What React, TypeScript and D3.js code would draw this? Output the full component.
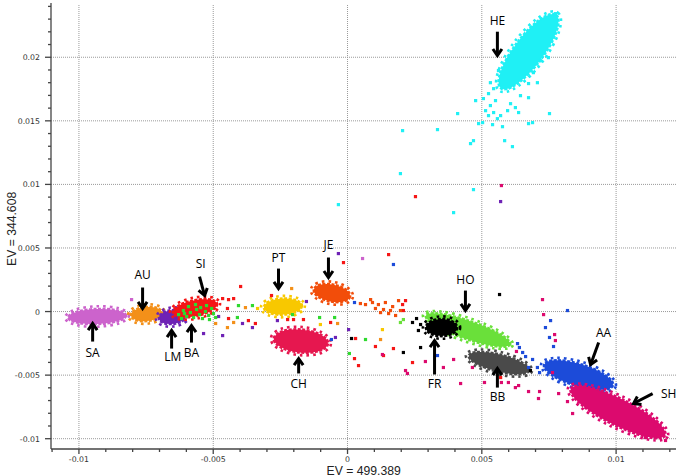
import { useEffect } from "react";
import * as d3 from "d3";

const W = 686;
const H = 476;

// axis ticks (major, labelled)
const xTicks = [-0.01, -0.005, 0, 0.005, 0.01];
const xTickLabels = ["-0.01", "-0.005", "0", "0.005", "0.01"];
const yTicks = [-0.01, -0.005, 0, 0.005, 0.01, 0.015, 0.02];
const yTickLabels = ["-0.01", "-0.005", "0", "0.005", "0.01", "0.015", "0.02"];

const xTitle = "EV = 499.389";
const yTitle = "EV = 344.608";

// populations, drawn in this order
const popIds = ["SA", "AU", "LM", "SI", "PT", "JE", "CH", "HO", "FR", "BB", "AA", "SH", "HE"];
// dense core of each population: main axis from (x1,y1) to (x2,y2), half-spread w (EV units)
const popX1 = [-0.01042, -0.00808, -0.00704, -0.00652, -0.00313, -0.00127, -0.00276, 0.0029, 0.0029, 0.0045, 0.0073, 0.0083, 0.0057];
const popY1 = [-0.00047, -0.00031, -0.00055, -0.0001, 0.00031, 0.00173, -0.00212, -0.00031, -0.00126, -0.00346, -0.00417, -0.00605, 0.01753];
const popX2 = [-0.00823, -0.00689, -0.00599, -0.00484, -0.00168, 0.00011, -0.00071, 0.00607, 0.0041, 0.00678, 0.0099, 0.01184, 0.00778];
const popY2 = [-0.00031, -0.00008, -0.00031, 0.00063, 0.00047, 0.00118, -0.00252, -0.00259, -0.00126, -0.00464, -0.00582, -0.00975, 0.02335];
const popW = [0.00063, 0.00059, 0.00058, 0.00066, 0.00067, 0.00071, 0.00094, 0.00075, 0.00071, 0.00071, 0.0009, 0.00108, 0.00118];

const popColor: Record<string, string> = {
  SA: "#cc63cc",
  AU: "#f39019",
  LM: "#6e22b5",
  SI: "#f51616",
  BA: "#2fd92f",
  PT: "#f8c800",
  JE: "#f24d0a",
  CH: "#e6174f",
  HO: "#6ae03a",
  FR: "#000000",
  BB: "#4a4a4a",
  AA: "#1c4bd9",
  SH: "#dc0a6e",
  HE: "#1ff0f5",
};

// individual samples away from the dense cores
const ptsBA: [number, number][] = [
  [-0.00629, -0.00024], [-0.00611, 0.00008], [-0.00599, -0.00039], [-0.00585, -0.00008], [-0.00573, -0.00047],
  [-0.00562, 0.00016], [-0.00551, -0.00024], [-0.0054, -0.00055], [-0.00529, 0], [-0.00517, -0.00031],
  [-0.00506, 0.00024], [-0.00499, -0.00016], [-0.00592, 0.00039], [-0.00618, -0.00055], [-0.00566, 0.00055],
  [-0.00547, 0.00031], [-0.00525, 0.00047], [-0.00491, -0.00047], [-0.00607, -0.00016], [-0.00514, -0.00063],
  [-0.00205, -0.00024], [-0.00104, -0.00047], [-0.00048, -0.00047], [0.00067, -0.0022], [0.00007, -0.0033],
  [-0.00406, 0.00047], [-0.00354, 0.00047], [-0.0041, -0.00047],
];
const ptsHO: [number, number][] = [[0.00197, -0.00086], [0.00208, -0.00063]];
const ptsSI: [number, number][] = [
  [-0.00015, 0.00385], [0.00153, 0.00448], [0.00253, 0.00904], [-0.00283, 0.00126], [-0.00201, -0.00063],
  [-0.00223, -0.00063], [-0.00164, -0.00063], [-0.00063, -0.00086], [0.0003, -0.00212], [0.00026, -0.0037],
  [0.00041, -0.00425], [0.00104, -0.00275], [0.00134, -0.00346], [0.00171, -0.00291], [0.00242, -0.00401],
  [-0.00398, 0.00197], [-0.00465, 0.00102], [-0.00443, 0.00094], [-0.00424, 0.00102], [-0.00447, 0.00024],
  [-0.00443, -0.00055], [-0.00369, -0.00071], [-0.00343, -0.00094], [0.00205, 0.00055], [0.00216, 0.00086],
  [0.00208, 0.00008], [0.0057, -0.00519],
];
const ptsJE: [number, number][] = [
  [0.00048, 0.00063], [0.00067, 0.00055], [0.00093, 0.00071], [0.00115, 0.00055], [0.00141, 0.00071],
  [0.00168, 0.00039], [0.00153, -0.00016], [0.00179, -0.00031], [0.00123, -0.00008], [0.00104, 0.00024],
  [0.00197, 0.00008], [0.0019, 0.00086], [0.00134, 0.00016], [0.0016, 0.00008], [0.00086, 0.00094],
];
const ptsLM: [number, number][] = [
  [-0.00034, 0.00456], [-0.00153, 0.00079], [-0.00261, -0.00071], [0.00004, -0.00142], [-0.00045, -0.00204],
  [-0.0048, -0.00039], [-0.00391, -0.00094], [-0.00354, -0.00126], [-0.00465, -0.00189], [-0.00536, -0.00173],
  [0.0057, 0.00865],
];
const ptsSA: [number, number][] = [[0.00056, 0.00417], [-0.00804, 0.00094]];
const ptsAU: [number, number][] = [
  [-0.0038, 0.00031], [-0.00491, -0.00094], [-0.00424, -0.00086], [-0.00447, -0.00126], [-0.00208, 0.00181],
  [-0.00037, -0.00094], [0.00123, -0.0022],
];
const ptsPT: [number, number][] = [[-0.00335, 0.00024], [-0.00101, -0.00102], [0.0013, -0.00142]];
const ptsFR: [number, number][] = [
  [0.00015, -0.00212], [0.00208, -0.00322], [0.00272, -0.00102], [0.00264, -0.00149], [0.00272, -0.00283],
  [0.00566, 0.00134], [0.00681, -0.00464], [0.00242, -0.00086], [0.00257, -0.00055],
];
const ptsAA: [number, number][] = [
  [0.00171, 0.0037], [-0.0006, -0.0022], [0.00026, 0.00071], [0.00819, 0.00008], [0.00756, -0.00071],
  [0.00737, -0.00126], [0.00752, -0.00204], [0.00767, -0.00275], [0.00633, -0.00252], [0.0064, -0.00283],
  [0.00652, -0.00322], [0.00663, -0.00354], [0.00689, -0.00377], [0.00674, -0.0044], [0.00707, -0.0044],
  [0.00715, -0.0048], [0.00335, -0.00346],
];
const ptsSH: [number, number][] = [
  [0.00726, 0.00094], [0.0073, -0.00024], [0.00771, -0.00181], [0.00774, -0.00228], [0.00629, -0.00314],
  [0.00763, -0.0048], [0.0029, -0.00393], [0.00357, -0.0044], [0.00395, -0.00377], [0.00216, -0.00464],
  [0.00465, -0.0044], [0.00599, -0.00558], [0.00625, -0.00598], [0.00421, -0.00566], [0.0051, -0.00558],
  [0.00573, -0.00558], [0.00674, -0.00629], [0.00715, -0.00629], [0.00711, -0.00684], [0.00637, -0.00582],
  [0.01184, -0.01014], [0.01158, -0.00983], [0.01176, -0.00951], [0.01147, -0.00896], [0.01136, -0.00857],
  [0.01083, -0.00959], [0.01109, -0.00991], [0.00786, -0.00645], [0.00819, -0.00708], [0.00838, -0.00802],
  [0.00573, 0.00991], [0.00223, -0.00487], [0.0013, -0.00338],
];
const ptsHE: [number, number][] = [
  [0.00477, 0.01659], [0.0041, 0.01557], [0.00503, 0.01486], [0.00488, 0.01478], [0.00458, 0.01321],
  [0.00469, 0.01344], [0.00585, 0.01344], [0.00614, 0.01297], [0.00469, 0.00959], [0.00395, 0.00778],
  [0.00752, 0.01557], [0.00689, 0.01486], [0.00674, 0.01478], [0.0054, 0.0147], [0.00577, 0.01454],
  [0.00205, 0.01423], [0.00335, 0.01431], [0.00197, 0.01085], [-0.00034, 0.00841],
  [0.00514, 0.0158], [0.00525, 0.01541], [0.00544, 0.01565], [0.00558, 0.01517], [0.0057, 0.01541],
  [0.00532, 0.0162], [0.00551, 0.01659], [0.00596, 0.0158], [0.00625, 0.01604], [0.00637, 0.01565],
  [0.00674, 0.01682], [0.00506, 0.01675], [0.00525, 0.01714], [0.00544, 0.01753], [0.00532, 0.018],
  [0.00562, 0.01895], [0.00774, 0.02343], [0.00748, 0.02311], [0.00719, 0.01973], [0.00748, 0.01997],
  [0.00707, 0.018], [0.00692, 0.01879], [0.00674, 0.01793], [0.00607, 0.01635], [0.00644, 0.01698],
];
const strayGroups: [string, [number, number][]][] = [
  ["SI", ptsSI], ["JE", ptsJE], ["LM", ptsLM], ["SA", ptsSA], ["AU", ptsAU], ["PT", ptsPT],
  ["FR", ptsFR], ["AA", ptsAA], ["SH", ptsSH], ["HE", ptsHE], ["HO", ptsHO], ["BA", ptsBA],
];

// arrow labels: arrow head, arrow tail, text baseline position (EV units)
const labelNames = ["HE", "AU", "SI", "SA", "LM", "BA", "PT", "JE", "CH", "FR", "HO", "BB", "AA", "SH"];
const headX = [0.00558, -0.00763, -0.00532, -0.00949, -0.00655, -0.00581, -0.00257, -0.00071, -0.00182, 0.00324, 0.00439, 0.00558, 0.00905, 0.01065];
const headY = [0.02013, 0.00024, 0.00126, -0.00094, -0.00149, -0.0011, 0.00181, 0.00267, -0.0037, -0.00228, 0.00008, -0.00448, -0.00417, -0.00723];
const tailX = [0.00558, -0.00763, -0.00551, -0.00949, -0.00655, -0.00581, -0.00257, -0.00071, -0.00182, 0.00324, 0.00439, 0.00558, 0.00935, 0.01136];
const tailY = [0.02201, 0.00189, 0.00275, -0.00236, -0.00291, -0.00244, 0.00338, 0.00425, -0.00487, -0.00495, 0.00165, -0.00598, -0.00244, -0.00645];
const textX = [0.00558, -0.00763, -0.00547, -0.00949, -0.00651, -0.00581, -0.00257, -0.00071, -0.00182, 0.00324, 0.00439, 0.00558, 0.00953, 0.01196];
const textY = [0.02256, 0.00259, 0.00346, -0.00354, -0.00385, -0.00354, 0.00393, 0.00495, -0.00598, -0.00605, 0.0022, -0.007, -0.00197, -0.00676];

const left = 51;
const right = 676;
const top = 5;
const bottom = 449;

const x = d3.scaleLinear().domain([-0.01104, 0.01223]).range([left, right]);
const y = d3.scaleLinear().domain([-0.01081, 0.02411]).range([bottom, top]);

const minorX = d3.range(-11, 13).map((i) => i / 1000);
const minorY = d3.range(-10, 25).map((i) => i / 1000);

const Arrow = ({ hx, hy, tx, ty }: { hx: number; hy: number; tx: number; ty: number }) => {
  const ang = Math.atan2(hy - ty, hx - tx);
  const len = 8;
  const spread = 0.6;
  const a1 = [hx - len * Math.cos(ang - spread), hy - len * Math.sin(ang - spread)];
  const a2 = [hx - len * Math.cos(ang + spread), hy - len * Math.sin(ang + spread)];
  return (
    <g stroke="#000" strokeWidth={3} fill="none" strokeLinecap="butt" strokeLinejoin="miter">
      <line x1={tx} y1={ty} x2={hx - Math.cos(ang) * 1.5} y2={hy - Math.sin(ang) * 1.5} />
      <polyline points={`${a1[0]},${a1[1]} ${hx},${hy} ${a2[0]},${a2[1]}`} />
    </g>
  );
};

const App = () => {
  useEffect(() => {
    document.body.style.margin = "0";
  }, []);

  const clusters = popIds.map((id, i) => {
    const px1 = x(popX1[i]);
    const py1 = y(popY1[i]);
    const px2 = x(popX2[i]);
    const py2 = y(popY2[i]);
    const cx = (px1 + px2) / 2;
    const cy = (py1 + py2) / 2;
    const rx = Math.hypot(px2 - px1, py2 - py1) / 2;
    const ry = y(0) - y(popW[i]);
    const ang = (Math.atan2(py2 - py1, px2 - px1) * 180) / Math.PI;
    return { id, cx, cy, rx, ry, ang, color: popColor[id] };
  });

  return (
    <svg width={W} height={H} style={{ position: "absolute", left: 0, top: 0, background: "#fff" }}>
      {/* grid */}
      <g stroke="#9a9a9a" strokeWidth={1} strokeDasharray="1 1">
        {xTicks.map((t) => (
          <line key={`gx${t}`} x1={x(t)} x2={x(t)} y1={top} y2={bottom} />
        ))}
        {yTicks.map((t) => (
          <line key={`gy${t}`} x1={left} x2={right} y1={y(t)} y2={y(t)} />
        ))}
      </g>

      {/* population cores */}
      {clusters.map((c) => (
        <g key={c.id} transform={`translate(${c.cx},${c.cy}) rotate(${c.ang})`} fill={c.color} stroke={c.color}>
          <ellipse rx={c.rx + 2.5} ry={c.ry + 2.2} fill="none" strokeWidth={2.6} strokeDasharray="2.6 4" />
          <ellipse rx={c.rx - 0.5} ry={c.ry - 0.5} strokeWidth={2.6} strokeDasharray="3 1.5" />
        </g>
      ))}

      {/* scattered samples */}
      {strayGroups.map(([id, pts]) => (
        <g key={`s${id}`} fill={popColor[id]}>
          {pts.map((p, j) => (
            <rect key={j} x={x(p[0]) - 1.6} y={y(p[1]) - 1.6} width={3.2} height={3.2} />
          ))}
        </g>
      ))}

      {/* axes */}
      <g stroke="#444" strokeWidth={1.3}>
        <line x1={left} x2={left} y1={top - 2} y2={bottom} />
        <line x1={left} x2={right} y1={bottom} y2={bottom} />
        {minorX.map((t) => (
          <line key={`mx${t}`} x1={x(t)} x2={x(t)} y1={bottom} y2={bottom + (xTicks.some((v) => Math.abs(v - t) < 1e-9) ? 5 : 3)} />
        ))}
        {minorY.map((t) => (
          <line key={`my${t}`} y1={y(t)} y2={y(t)} x1={left} x2={left - (yTicks.some((v) => Math.abs(v - t) < 1e-9) ? 6 : 3)} />
        ))}
      </g>
      <g fontFamily="DejaVu Sans, sans-serif" fontSize={7.8} fill="#333">
        {xTicks.map((t, i) => (
          <text key={`xl${t}`} x={x(t)} y={bottom + 13} textAnchor="middle">
            {xTickLabels[i]}
          </text>
        ))}
        {yTicks.map((t, i) => (
          <text key={`yl${t}`} x={left - 11} y={y(t) + 3} textAnchor="end">
            {yTickLabels[i]}
          </text>
        ))}
      </g>
      <text x={x(0.0006)} y={474.5} textAnchor="middle" fontFamily="Liberation Sans, Arial, sans-serif" fontSize={12.2} fill="#222">
        {xTitle}
      </text>
      <text
        transform={`translate(16,${y(0.0065)}) rotate(-90)`}
        textAnchor="middle"
        fontFamily="Liberation Sans, Arial, sans-serif"
        fontSize={12.2}
        fill="#222"
      >
        {yTitle}
      </text>

      {/* labels with arrows */}
      {labelNames.map((name, i) => (
        <g key={`a${name}`}>
          <Arrow hx={x(headX[i])} hy={y(headY[i])} tx={x(tailX[i])} ty={y(tailY[i])} />
          <text x={x(textX[i])} y={y(textY[i])} textAnchor="middle" fontFamily="Open Sans, sans-serif" fontSize={12} fill="#000">
            {name}
          </text>
        </g>
      ))}
    </svg>
  );
};

export default App;
